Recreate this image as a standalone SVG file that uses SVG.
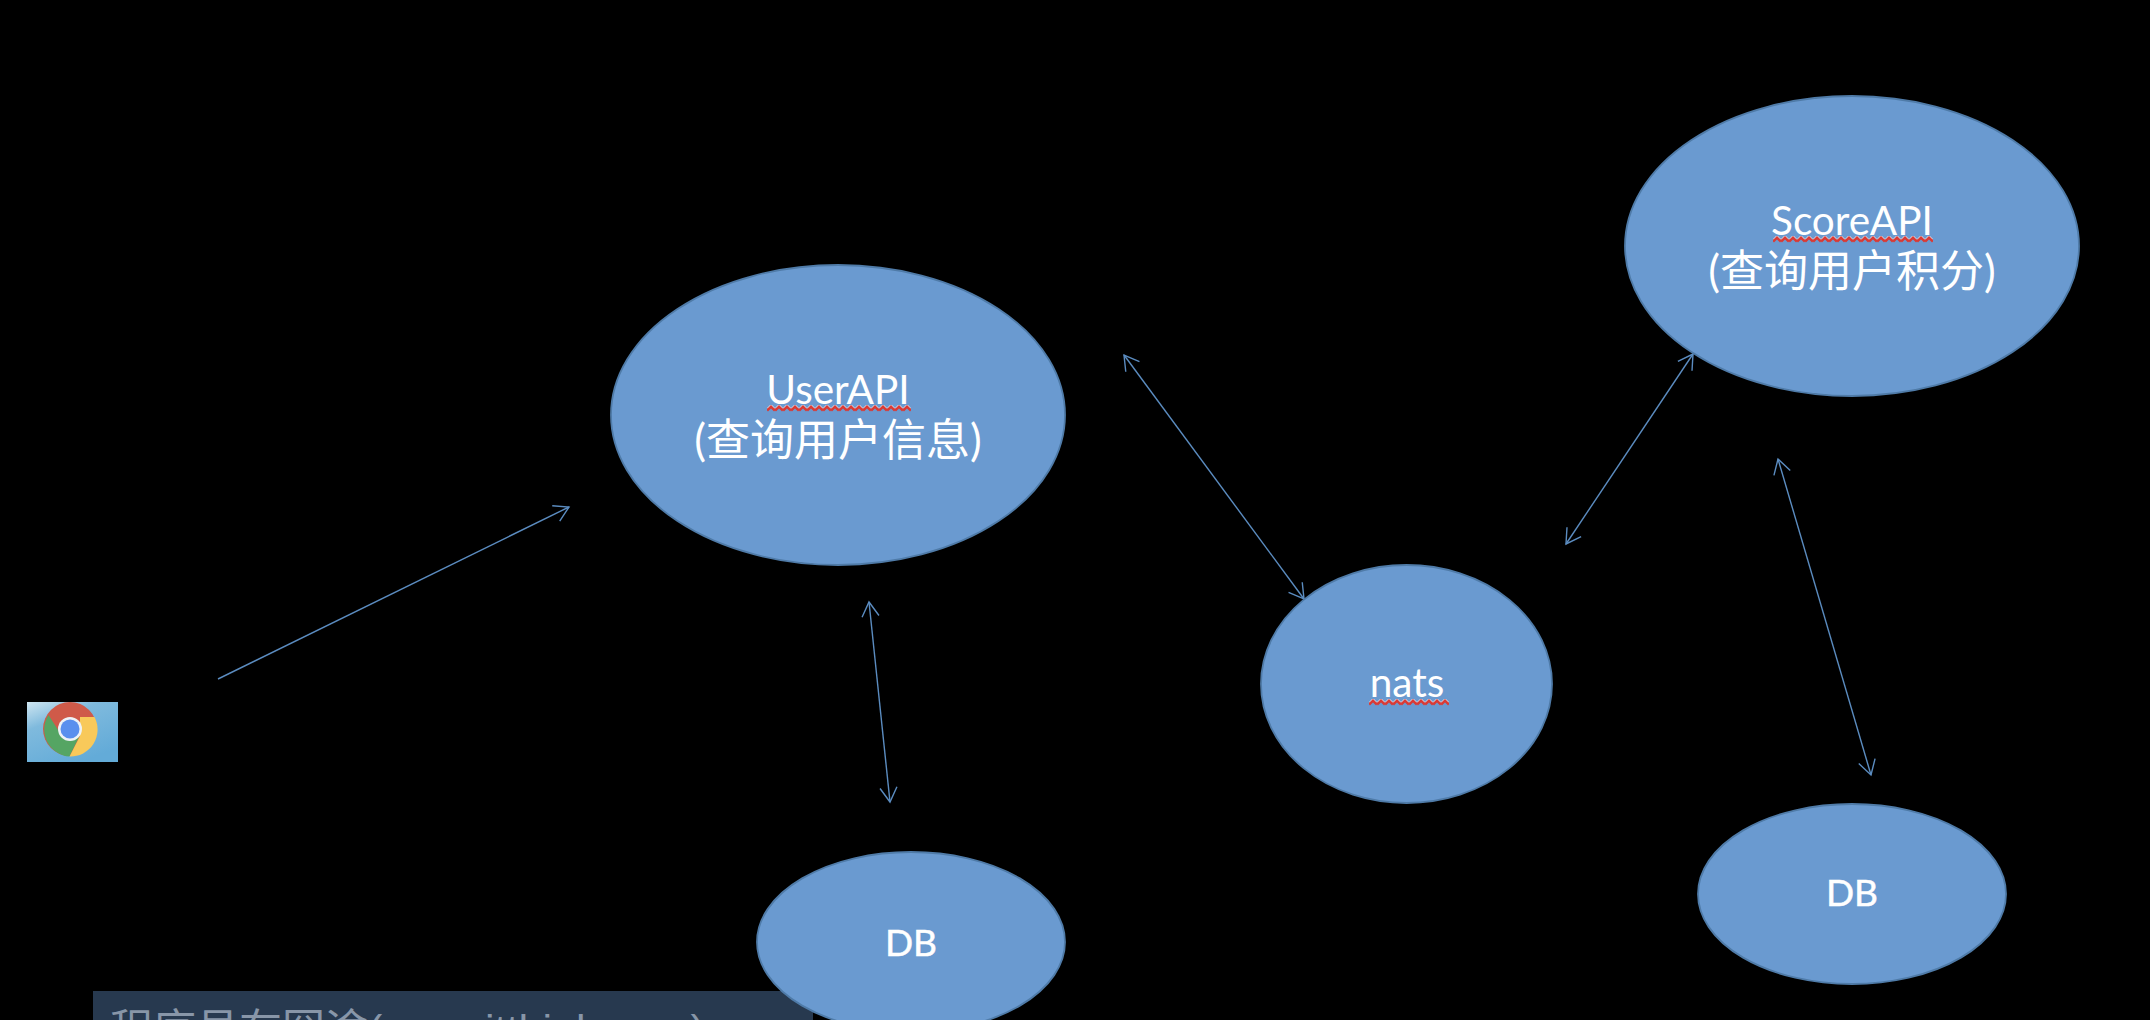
<svg xmlns="http://www.w3.org/2000/svg" width="2150" height="1020" viewBox="0 0 2150 1020">
<defs>
<marker id="open" viewBox="-22 -12 24 24" refX="0" refY="0" markerWidth="24" markerHeight="24" markerUnits="userSpaceOnUse" orient="auto-start-reverse"><path d="M-14.500,-8.500 L0,0 L-14.500,8.500" fill="none" stroke="#5b8cc0" stroke-width="1.4"/></marker>
<linearGradient id="sky" x1="0" y1="0" x2="0.6" y2="1"><stop offset="0" stop-color="#cfe6f1"/><stop offset="0.35" stop-color="#7fbadd"/><stop offset="1" stop-color="#63abd8"/></linearGradient>
<pattern id="wavy" width="8" height="7" patternUnits="userSpaceOnUse"><path d="M0,5.500 L4,1.500 L8,5.500" fill="none" stroke="#d93a35" stroke-width="2.800"/><path d="M0,3.500 L4,-0.500 L8,3.500" fill="none" stroke="#fff" stroke-width="1" opacity=".7"/></pattern>
<filter id="soft"><feGaussianBlur stdDeviation="0.6"/></filter>
</defs>
<style>
.node{fill:#6a9ad0;stroke:#4f7ba8;stroke-width:1.8}
.label{font-family:"Lato","Noto Sans CJK SC",sans-serif;fill:#fff;text-anchor:middle}
.big{font-size:40.500px}
.cn{font-size:44px}
.db{font-size:37px;stroke:#fff;stroke-width:.5}
.conn{fill:none;stroke:#5b8cc0;stroke-width:1.4}
</style>
<rect width="2150" height="1020" fill="#000"/>
<g id="banner"><rect x="93" y="991" width="720" height="29" fill="#27394f"/>
<text x="110" y="1045" font-size="43" fill="#8896a8" font-family="'Liberation Sans','Noto Sans CJK SC',sans-serif">程序员在囧途(www.jtthink.com)</text></g>
<g id="connectors">
<line class="conn" x1="218" y1="679" x2="569" y2="507" marker-end="url(#open)"/>
<line class="conn" x1="1124" y1="355" x2="1304" y2="599" marker-start="url(#open)" marker-end="url(#open)"/>
<line class="conn" x1="869" y1="602" x2="890" y2="802" marker-start="url(#open)" marker-end="url(#open)"/>
<line class="conn" x1="1566" y1="544" x2="1693" y2="354" marker-start="url(#open)" marker-end="url(#open)"/>
<line class="conn" x1="1778" y1="459" x2="1871" y2="775" marker-start="url(#open)" marker-end="url(#open)"/>
</g>
<g id="browser">
<rect x="27" y="702" width="91" height="60" fill="url(#sky)"/>
<g filter="url(#soft)">
<circle cx="70" cy="729" r="27" fill="#cf5a48"/>
<path d="M48.500,715 A27,27 0 0,0 69.500,756.500 L80,735 L62,736 Z" fill="#55a564"/>
<path d="M94.500,717 A27,27 0 0,1 69.500,756.500 L80,736 L80,717 Z" fill="#f8c95a"/>
<circle cx="70" cy="729" r="12" fill="#eef2f5"/><circle cx="70" cy="729" r="9.500" fill="#5a8fee"/>
</g></g>
<g id="userapi"><ellipse class="node" cx="838" cy="415" rx="227" ry="150"/>
<text class="label big" x="838" y="404">UserAPI</text><text class="label cn" x="838" y="456">(查询用户信息)</text>
<rect transform="translate(767,405)" width="144" height="7" fill="url(#wavy)"/></g>
<g id="scoreapi"><ellipse class="node" cx="1852" cy="246" rx="227" ry="150"/>
<text class="label big" x="1852" y="235">ScoreAPI</text><text class="label cn" x="1852" y="287">(查询用户积分)</text>
<rect transform="translate(1773,236)" width="160" height="7" fill="url(#wavy)"/></g>
<g id="nats"><ellipse class="node" cx="1406.500" cy="684" rx="145.500" ry="119"/>
<text class="label big" x="1407" y="697">nats</text>
<rect transform="translate(1369,699)" width="80" height="7" fill="url(#wavy)"/></g>
<g id="db-user"><ellipse class="node" cx="911" cy="942" rx="154" ry="90"/><text class="label db" x="911" y="956">DB</text></g>
<g id="db-score"><ellipse class="node" cx="1852" cy="894" rx="154" ry="90"/><text class="label db" x="1852" y="906">DB</text></g>
</svg>
